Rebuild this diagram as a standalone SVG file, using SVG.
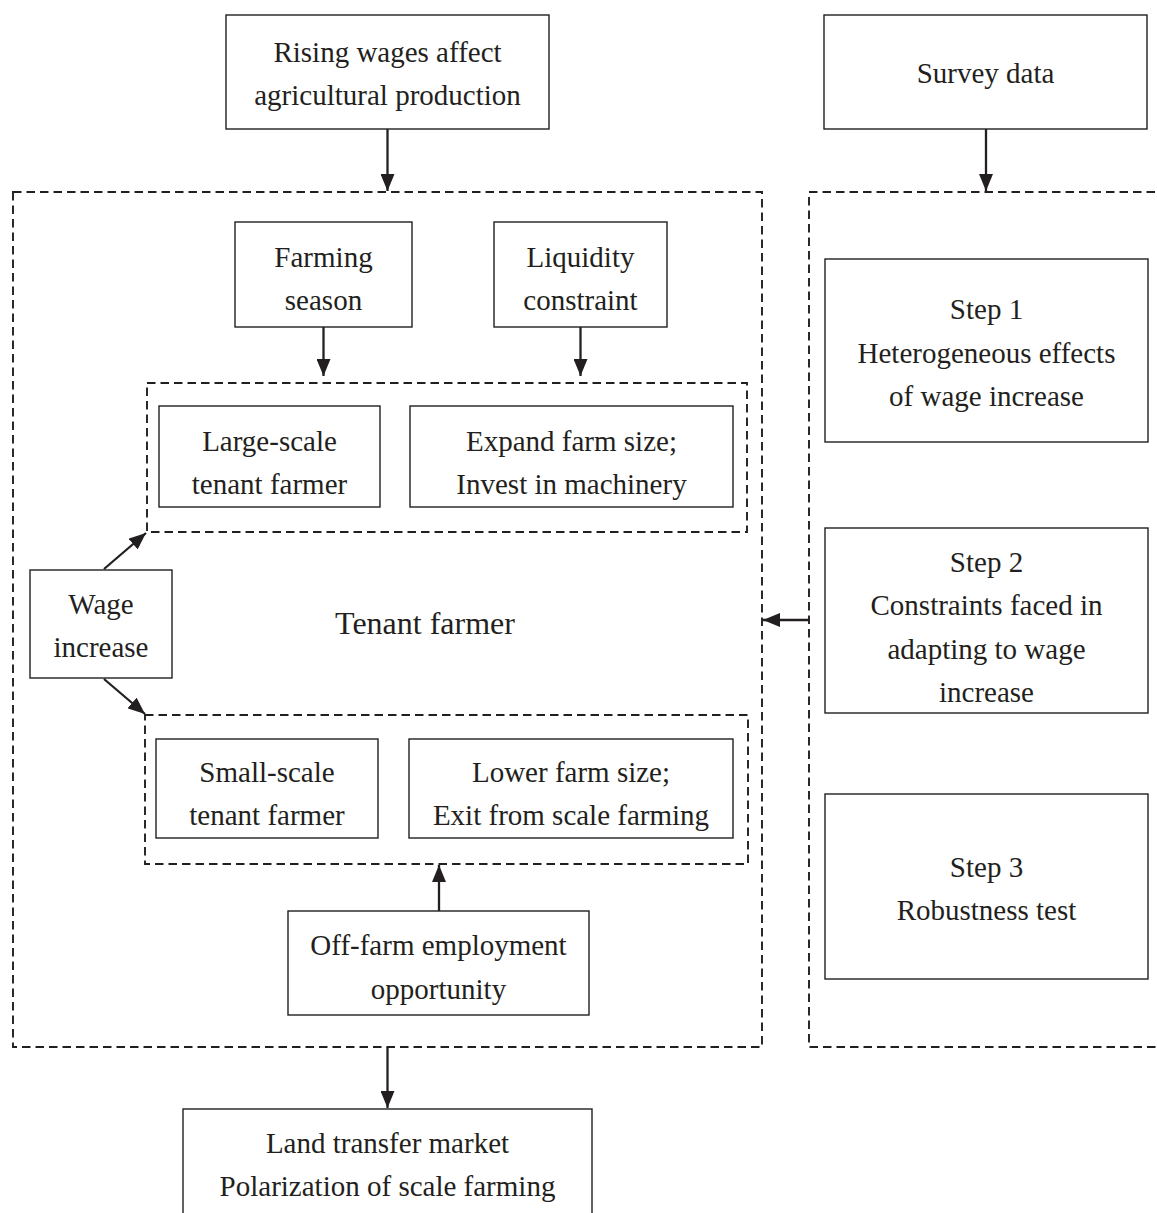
<svg xmlns="http://www.w3.org/2000/svg" width="1157" height="1213" viewBox="0 0 1157 1213">
<style>
.box{fill:#fff;stroke:#231f20;stroke-width:1.4}
.dash{fill:none;stroke:#231f20;stroke-width:1.9;stroke-dasharray:8.5 5}
.t{font-family:"Liberation Serif","Times New Roman",serif;font-size:29px;fill:#231f20;text-anchor:middle}
.big{font-size:32px}
.c{stroke:#231f20;stroke-width:2.3;fill:none;marker-end:url(#ah)}
</style>
<defs>
<marker id="ah" viewBox="0 0 17 14" refX="17" refY="7" markerWidth="17" markerHeight="14" markerUnits="userSpaceOnUse" orient="auto">
<path d="M0,0 L17,7 L0,14 z" fill="#231f20"/>
</marker>
</defs>
<rect width="1157" height="1213" fill="#fff"/>
<g id="containers">
<rect id="tenant-frame" class="dash" x="13" y="192" width="749" height="855"/>
<rect id="steps-frame" class="dash" x="809" y="192" width="360" height="855"/>
<rect id="large-frame" class="dash" x="147" y="383" width="600" height="149"/>
<rect id="small-frame" class="dash" x="145" y="715" width="603" height="149"/>
<text class="t big" x="425" y="634">Tenant farmer</text>
</g>
<g id="n-rising"><rect class="box" x="226" y="15" width="323" height="114"/><text class="t" x="387.5" y="62">Rising wages affect</text><text class="t" x="387.5" y="105">agricultural production</text></g>
<g id="n-survey"><rect class="box" x="824" y="15" width="323" height="114"/><text class="t" x="985.5" y="83">Survey data</text></g>
<g id="n-farming"><rect class="box" x="235" y="222" width="177" height="105"/><text class="t" x="323.5" y="267">Farming</text><text class="t" x="323.5" y="310">season</text></g>
<g id="n-liquidity"><rect class="box" x="494" y="222" width="173" height="105"/><text class="t" x="580.5" y="267">Liquidity</text><text class="t" x="580.5" y="310">constraint</text></g>
<g id="n-large"><rect class="box" x="159" y="406" width="221" height="101"/><text class="t" x="269.5" y="451">Large-scale</text><text class="t" x="269.5" y="494">tenant farmer</text></g>
<g id="n-expand"><rect class="box" x="410" y="406" width="323" height="101"/><text class="t" x="571.5" y="451">Expand farm size;</text><text class="t" x="571.5" y="494">Invest in machinery</text></g>
<g id="n-wage"><rect class="box" x="30" y="570" width="142" height="108"/><text class="t" x="101" y="614">Wage</text><text class="t" x="101" y="657">increase</text></g>
<g id="n-small"><rect class="box" x="156" y="739" width="222" height="99"/><text class="t" x="267" y="782">Small-scale</text><text class="t" x="267" y="825">tenant farmer</text></g>
<g id="n-lower"><rect class="box" x="409" y="739" width="324" height="99"/><text class="t" x="571" y="782">Lower farm size;</text><text class="t" x="571" y="825">Exit from scale farming</text></g>
<g id="n-offfarm"><rect class="box" x="288" y="911" width="301" height="104"/><text class="t" x="438.5" y="955">Off-farm employment</text><text class="t" x="438.5" y="999">opportunity</text></g>
<g id="n-land"><rect class="box" x="183" y="1109" width="409" height="110"/><text class="t" x="387.5" y="1153">Land transfer market</text><text class="t" x="387.5" y="1196">Polarization of scale farming</text></g>
<g id="n-step1"><rect class="box" x="825" y="259" width="323" height="183"/><text class="t" x="986.5" y="319">Step 1</text><text class="t" x="986.5" y="363">Heterogeneous effects</text><text class="t" x="986.5" y="406">of wage increase</text></g>
<g id="n-step2"><rect class="box" x="825" y="528" width="323" height="185"/><text class="t" x="986.5" y="572">Step 2</text><text class="t" x="986.5" y="615">Constraints faced in</text><text class="t" x="986.5" y="659">adapting to wage</text><text class="t" x="986.5" y="702">increase</text></g>
<g id="n-step3"><rect class="box" x="825" y="794" width="323" height="185"/><text class="t" x="986.5" y="877">Step 3</text><text class="t" x="986.5" y="920">Robustness test</text></g>
<g id="connectors">
<line class="c" x1="387.5" y1="129" x2="387.5" y2="191"/>
<line class="c" x1="986" y1="129" x2="986" y2="191"/>
<line class="c" x1="323.5" y1="327" x2="323.5" y2="376"/>
<line class="c" x1="580.5" y1="327" x2="580.5" y2="376"/>
<line class="c" x1="104" y1="569" x2="146" y2="533"/>
<line class="c" x1="104" y1="679" x2="145" y2="714"/>
<line class="c" x1="439" y1="911" x2="439" y2="865"/>
<line class="c" x1="387.5" y1="1047" x2="387.5" y2="1108"/>
<line class="c" x1="809" y1="620" x2="763" y2="620"/>
</g>
</svg>
